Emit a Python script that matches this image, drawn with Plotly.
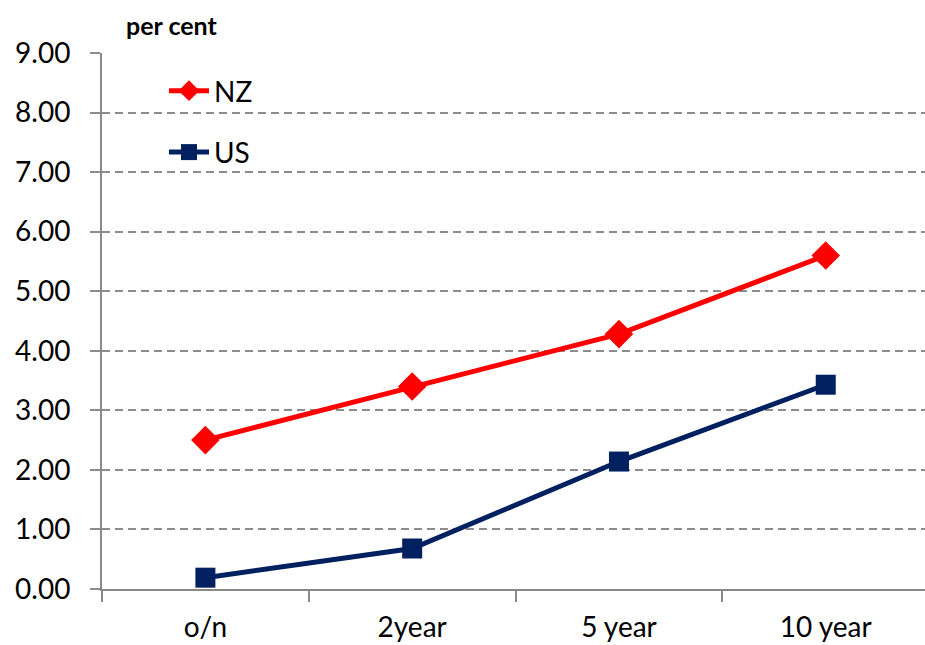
import plotly.graph_objects as go

categories = ["o/n", "2year", "5 year", "10 year"]
nz_values = [2.50, 3.40, 4.28, 5.60]
us_values = [0.19, 0.68, 2.14, 3.43]
y_ticks = [0, 1, 2, 3, 4, 5, 6, 7, 8, 9]
y_tick_labels = [f"{v:.2f}" for v in y_ticks]

FONT = "Lato, 'Open Sans', sans-serif"

fig = go.Figure()
fig.add_trace(go.Scatter(
    x=categories, y=nz_values, name="NZ", mode="lines+markers",
    line=dict(color="#FF0000", width=5),
    marker=dict(symbol="diamond", size=22, color="#FF0000"),
    legendgroup="nz",
))
fig.add_trace(go.Scatter(
    x=categories, y=us_values, name="US", mode="lines+markers",
    line=dict(color="#002060", width=5),
    marker=dict(symbol="square", size=20, color="#002060"),
    legendgroup="us",
))

plot_l, plot_t, plot_b = 102, 53, 56
plot_w = 925 - plot_l
plot_h = 645 - plot_t - plot_b

fig.update_layout(
    width=925, height=645,
    margin=dict(l=plot_l, r=0, t=plot_t, b=plot_b),
    plot_bgcolor="white", paper_bgcolor="white",
    font=dict(family=FONT, color="black"),
    showlegend=True,
    legend=dict(
        x=(164 - plot_l) / plot_w, y=1 - (66 - plot_t) / plot_h,
        xanchor="left", yanchor="top",
        font=dict(size=28, family=FONT),
        bgcolor="rgba(0,0,0,0)",
        tracegroupgap=22,
        itemwidth=40,
    ),
    xaxis=dict(
        type="category",
        range=[-0.5, 3.48],
        showgrid=False,
        showline=True, linecolor="#898989", linewidth=2,
        ticks="outside", ticklen=11, tickcolor="#898989", tickwidth=2,
        tickson="boundaries",
        tickfont=dict(size=28, family=FONT),
        ticklabelstandoff=12,
        zeroline=False,
        automargin=False,
    ),
    yaxis=dict(
        range=[0, 9],
        tickvals=y_ticks, ticktext=y_tick_labels,
        showgrid=True, gridcolor="#8c8c8c", griddash="8px,5px", gridwidth=2,
        showline=True, linecolor="#898989", linewidth=2,
        ticks="outside", ticklen=10, tickcolor="#8c8c8c", tickwidth=2,
        tickfont=dict(size=28, family=FONT),
        zeroline=False,
        ticklabelstandoff=14,
        automargin=False,
    ),
    annotations=[dict(
        text="<b>per cent</b>",
        x=(172 - plot_l) / plot_w, y=(645 - plot_b - 25) / plot_h,
        xref="paper", yref="paper", xanchor="center", yanchor="middle",
        showarrow=False, font=dict(size=25, family=FONT),
    )],
)

fig.write_html("out.html")
